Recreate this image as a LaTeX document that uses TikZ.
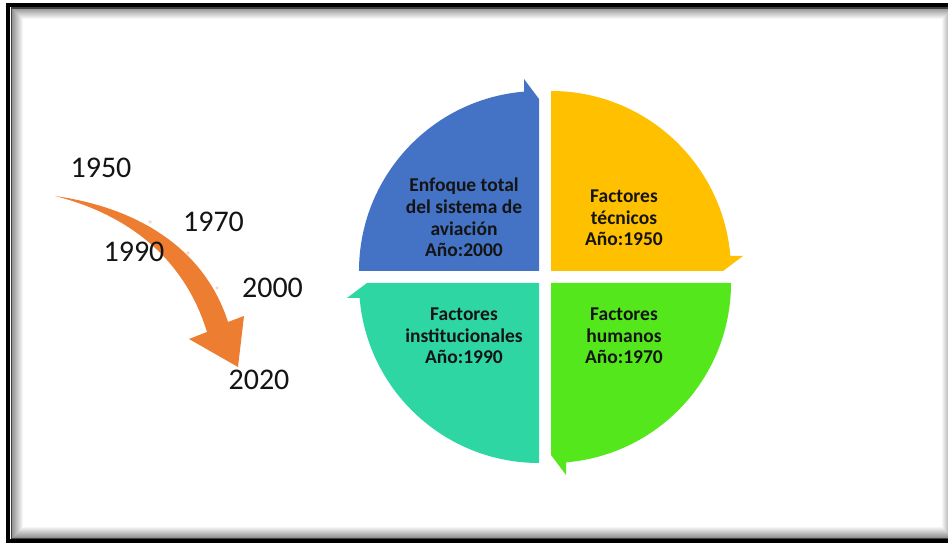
\documentclass[tikz,border=0pt]{standalone}
\usepackage{fontspec}
\setmainfont{Carlito}
\usetikzlibrary{calc}

\definecolor{qblue}{RGB}{68,114,196}
\definecolor{qyellow}{RGB}{255,192,0}
\definecolor{qgreen}{RGB}{84,232,28}
\definecolor{qteal}{RGB}{46,214,164}
\definecolor{arroworange}{RGB}{237,125,49}
\definecolor{dotpink}{RGB}{248,196,180}
\definecolor{textdark}{RGB}{20,20,20}

\tikzset{
  year/.style={font=\fontsize{30}{36}\selectfont, text=textdark, inner sep=0pt, anchor=center},
  quadtext/.style={font=\bfseries\fontsize{19.5}{21.7}\selectfont, text=textdark,
    align=center, inner sep=0pt, anchor=center},
  dot/.style={fill=dotpink, opacity=0.7},
}

% one quarter disc ending in a small pointer; drawn for the upper right
% quarter and rotated into place
\newcommand{\quarterpiece}[3]{%
  \begin{scope}[shift={#1}, rotate=#2]
    \fill[#3] (0,0) -- (0,180) arc[start angle=90, end angle=4.78, radius=180]
      -- (192,15) -- (172,0) -- cycle;
  \end{scope}}

\begin{document}
\begin{tikzpicture}[x=1pt, y=1pt]
  \useasboundingbox (0,0) rectangle (948,543);
  \clip (0,0) rectangle (948,543);
  \fill[white] (0,0) rectangle (948,543);

  % framed panel with inner shadow
  \foreach \i in {0,...,10} {
    \pgfmathsetmacro{\op}{0.42*(1-\i/11)}
    \draw[black, opacity=\op, line width=1] (12.5+\i,5+\i) rectangle (952-\i,534.5-\i);
  }
  \draw[black!75, line width=1.2] (11.5,4) rectangle (953,535);
  \draw[black, line width=4] (7.5,1.5) rectangle (960,537.5);

  % cycle of four quarters
  \quarterpiece{(551,272)}{0}{qyellow}
  \quarterpiece{(551,260)}{-90}{qgreen}
  \quarterpiece{(539,260)}{180}{qteal}
  \quarterpiece{(539,272)}{90}{qblue}

  \node[quadtext] (tec) at (624,325) {Factores\\técnicos\\Año:1950};
  \node[quadtext] (hum) at (624,207) {Factores\\humanos\\Año:1970};
  \node[quadtext] (ins) at (464,207) {Factores\\institucionales\\Año:1990};
  \node[quadtext] (tot) at (464,325.5) {Enfoque total\\del sistema de\\aviación\\Año:2000};

  % curved timeline arrow
  \fill[arroworange] (55,347) .. controls (140,335) and (205,293) .. (228,221)
    -- (244,227) -- (238,176) -- (189,204) -- (207,211)
    .. controls (185,283) and (130,328) .. (55,347) -- cycle;

  \fill[dot] (150,321) circle (1.8);
  \fill[dot] (188,290) circle (1.8);
  \fill[dot] (217,255) circle (1.8);

  \node[year] (y1950) at (101,375.5) {1950};
  \node[year] (y1970) at (213.5,321.5) {1970};
  \node[year] (y1990) at (134,291.5) {1990};
  \node[year] (y2000) at (272.5,255.5) {2000};
  \node[year] (y2020) at (259,163) {2020};
\end{tikzpicture}
\end{document}
